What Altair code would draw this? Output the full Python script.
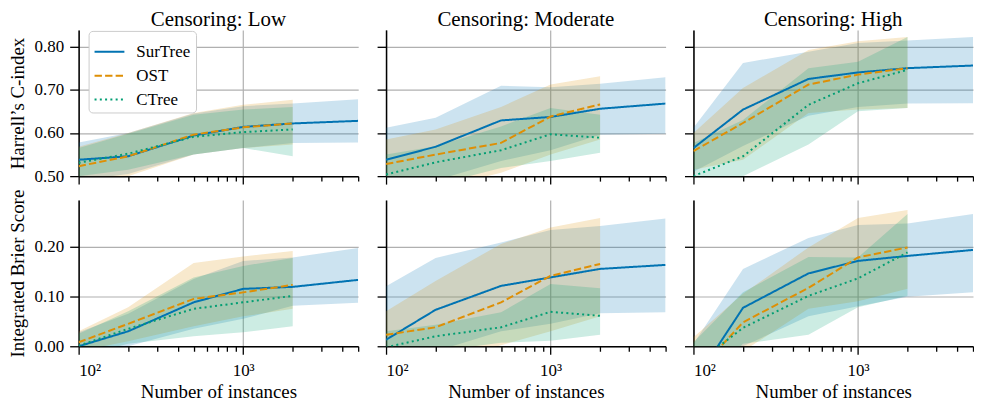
import altair as alt
import pandas as pd

FONT = "Liberation Serif"

MODELS = ["SurTree", "OST", "CTree"]
COLORS = ["#0173b2", "#de8f05", "#029e73"]
DASHES = [[1, 0], [7.4, 3.2], [2, 3.3]]
CENSORING = ["Low", "Moderate", "High"]
N_SUR = [100, 200, 500, 1000, 2000, 5000]
N_OTH = [100, 200, 500, 1000, 2000]
MAJOR_X = [100, 1000]
MINOR_X = [200, 300, 400, 500, 600, 700, 800, 900, 2000, 3000, 4000, 5000]

# ---- Harrell's C-index ----
cidx_low = {
    "SurTree": {"mean": [0.538, 0.546, 0.594, 0.614, 0.622, 0.628],
                "lo": [0.490, 0.505, 0.550, 0.565, 0.577, 0.578],
                "hi": [0.578, 0.600, 0.645, 0.662, 0.668, 0.678]},
    "OST": {"mean": [0.523, 0.546, 0.596, 0.613, 0.622],
            "lo": [0.485, 0.500, 0.550, 0.565, 0.573],
            "hi": [0.568, 0.600, 0.646, 0.665, 0.677]},
    "CTree": {"mean": [0.531, 0.552, 0.591, 0.602, 0.608],
              "lo": [0.500, 0.515, 0.550, 0.565, 0.546],
              "hi": [0.565, 0.598, 0.642, 0.654, 0.660]},
}
cidx_mod = {
    "SurTree": {"mean": [0.538, 0.568, 0.629, 0.637, 0.656, 0.668],
                "lo": [0.470, 0.490, 0.535, 0.560, 0.596, 0.598],
                "hi": [0.612, 0.635, 0.709, 0.706, 0.714, 0.729]},
    "OST": {"mean": [0.528, 0.550, 0.577, 0.638, 0.666],
            "lo": [0.450, 0.470, 0.508, 0.550, 0.585],
            "hi": [0.585, 0.608, 0.660, 0.712, 0.731]},
    "CTree": {"mean": [0.504, 0.532, 0.560, 0.597, 0.589],
              "lo": [0.460, 0.480, 0.519, 0.535, 0.554],
              "hi": [0.550, 0.569, 0.615, 0.658, 0.642]},
}
cidx_high = {
    "SurTree": {"mean": [0.565, 0.654, 0.725, 0.740, 0.750, 0.756],
                "lo": [0.510, 0.570, 0.640, 0.660, 0.668, 0.669],
                "hi": [0.612, 0.762, 0.788, 0.808, 0.814, 0.822]},
    "OST": {"mean": [0.558, 0.623, 0.712, 0.735, 0.750],
            "lo": [0.515, 0.538, 0.646, 0.654, 0.658],
            "hi": [0.600, 0.704, 0.792, 0.812, 0.822]},
    "CTree": {"mean": [0.500, 0.546, 0.665, 0.715, 0.746],
              "lo": [0.460, 0.500, 0.573, 0.650, 0.658],
              "hi": [0.577, 0.630, 0.750, 0.765, 0.822]},
}

# ---- Integrated Brier Score ----
ibs_low = {
    "SurTree": {"mean": [0.000, 0.030, 0.088, 0.115, 0.119, 0.133],
                "lo": [-0.020, 0.000, 0.035, 0.055, 0.081, 0.087],
                "hi": [0.028, 0.065, 0.135, 0.171, 0.178, 0.197]},
    "OST": {"mean": [0.008, 0.045, 0.095, 0.108, 0.123],
            "lo": [-0.010, 0.010, 0.040, 0.060, 0.075],
            "hi": [0.030, 0.078, 0.167, 0.180, 0.191]},
    "CTree": {"mean": [0.001, 0.035, 0.075, 0.088, 0.101],
              "lo": [-0.020, 0.005, 0.020, 0.028, 0.040],
              "hi": [0.025, 0.070, 0.138, 0.161, 0.177]},
}
ibs_mod = {
    "SurTree": {"mean": [0.013, 0.073, 0.121, 0.138, 0.155, 0.163],
                "lo": [-0.050, -0.010, 0.030, 0.045, 0.066, 0.068],
                "hi": [0.120, 0.177, 0.208, 0.233, 0.241, 0.256]},
    "OST": {"mean": [0.023, 0.038, 0.088, 0.141, 0.165],
            "lo": [-0.050, -0.030, 0.002, 0.030, 0.060],
            "hi": [0.070, 0.131, 0.205, 0.238, 0.257]},
    "CTree": {"mean": [-0.002, 0.020, 0.038, 0.069, 0.061],
              "lo": [-0.030, -0.010, 0.007, 0.011, 0.023],
              "hi": [0.030, 0.043, 0.068, 0.125, 0.116]},
}
ibs_high = {
    "SurTree": {"mean": [-0.074, 0.077, 0.146, 0.171, 0.181, 0.193],
                "lo": [-0.120, 0.000, 0.060, 0.080, 0.099, 0.108],
                "hi": [0.005, 0.155, 0.217, 0.243, 0.246, 0.265]},
    "OST": {"mean": [-0.060, 0.048, 0.117, 0.178, 0.198],
            "lo": [-0.120, -0.010, 0.075, 0.090, 0.115],
            "hi": [0.018, 0.105, 0.198, 0.257, 0.273]},
    "CTree": {"mean": [-0.040, 0.037, 0.101, 0.136, 0.188],
              "lo": [-0.100, 0.005, 0.023, 0.078, 0.101],
              "hi": [0.008, 0.108, 0.179, 0.178, 0.265]},
}

METRICS = ["cidx", "ibs"]
PANELS = {
    ("cidx", "Low"): cidx_low, ("cidx", "Moderate"): cidx_mod, ("cidx", "High"): cidx_high,
    ("ibs", "Low"): ibs_low, ("ibs", "Moderate"): ibs_mod, ("ibs", "High"): ibs_high,
}
YDOM = {"cidx": [0.5, 0.8385], "ibs": [0.0, 0.293]}
YTICKS = {"cidx": [0.5, 0.6, 0.7, 0.8], "ibs": [0.0, 0.1, 0.2]}
YTITLE = {"cidx": "Harrell\u2019s C-index", "ibs": "Integrated Brier Score"}

rows = []
for (metric, cens), panel in PANELS.items():
    for m in MODELS:
        xs = N_SUR if m == "SurTree" else N_OTH
        d = panel[m]
        for i, n in enumerate(xs):
            rows.append(dict(metric=metric, cens=cens, model=m, n=n,
                             mean=d["mean"][i], lo=d["lo"][i], hi=d["hi"][i]))
df = pd.DataFrame(rows)


def make_panel(metric, cens, r, c):
    sub = df[(df.metric == metric) & (df.cens == cens)]
    cscale = alt.Scale(domain=MODELS, range=COLORS)
    dscale = alt.Scale(domain=MODELS, range=DASHES)
    xscale = alt.Scale(type="log", domain=[100, 5000], nice=False)
    yscale = alt.Scale(domain=YDOM[metric], nice=False, zero=False)
    ykw = dict(values=YTICKS[metric], format=".2f", grid=True, tickSize=9, ticks=True,
               labels=(c == 0), labelPadding=6, titlePadding=7)
    ykw["title"] = YTITLE[metric] if c == 0 else None
    yaxis = alt.Axis(**ykw)
    xkw = dict(values=MAJOR_X, grid=True, tickSize=8, ticks=True, labels=(r == 1),
               labelExpr="datum.value == 100 ? '10\u00b2' : '10\u00b3'",
               orient="bottom", labelPadding=(8 if r == 1 else 4), titlePadding=4)
    xkw["title"] = "Number of instances" if r == 1 else None
    x_major = alt.X("n:Q", scale=xscale, axis=alt.Axis(**xkw))
    x_minor = alt.X("n:Q", scale=xscale,
                    axis=alt.Axis(values=MINOR_X, grid=False, tickSize=5, ticks=True,
                                  labels=False, domain=False, title=None, orient="bottom"))
    y_enc = alt.Y("mean:Q", scale=yscale, axis=yaxis)

    bands = []
    for m, col in zip(MODELS, COLORS):
        bands.append(alt.Chart(sub[sub.model == m]).mark_area(
            color=col, opacity=0.2, clip=True).encode(
            x=x_major, y=alt.Y("lo:Q", scale=yscale, axis=yaxis), y2="hi:Q"))

    if r == 0 and c == 0:
        leg = alt.Legend(title=None, orient="none", legendX=10, legendY=1,
                         fillColor="white", strokeColor="#cccccc", cornerRadius=4,
                         padding=5, symbolType="stroke", symbolSize=900, symbolStrokeWidth=2,
                         labelFont=FONT, labelFontSize=17, labelOffset=11, rowPadding=0,
                         labelColor="black")
        color = alt.Color("model:N", scale=cscale, legend=leg)
        dash = alt.StrokeDash("model:N", scale=dscale, legend=leg)
    else:
        color = alt.Color("model:N", scale=cscale, legend=None)
        dash = alt.StrokeDash("model:N", scale=dscale, legend=None)
    lines = alt.Chart(sub).mark_line(strokeWidth=2, clip=True).encode(
        x=x_major, y=y_enc, color=color, strokeDash=dash)

    inner = alt.layer(*bands, lines)
    minor = alt.Chart(sub).mark_point(opacity=0, size=1, clip=True).encode(x=x_minor, y=y_enc)
    ch = alt.layer(inner, minor).resolve_axis(x="independent").properties(width=281, height=147)
    if r == 0:
        ch = ch.properties(title=alt.TitleParams("Censoring:  " + cens, font=FONT, fontSize=21,
                                                 fontWeight="normal", anchor="middle",
                                                 frame="group", offset=0))
    return ch


RES = dict(color="independent", strokeDash="independent")
grid_rows = []
for r, metric in enumerate(METRICS):
    grid_rows.append(
        alt.hconcat(*[make_panel(metric, cens, r, c) for c, cens in enumerate(CENSORING)],
                    spacing=17).resolve_scale(**RES).resolve_legend(**RES)
    )

chart = alt.vconcat(*grid_rows, spacing=4, padding=0).resolve_scale(**RES).resolve_legend(
    **RES
).configure(background="white").configure_view(stroke=None).configure_axis(
    labelFont=FONT, titleFont=FONT, labelFontSize=17, titleFontSize=19,
    titleFontWeight="normal", labelColor="black", titleColor="black",
    domainColor="black", domainWidth=1.5, tickColor="black", tickWidth=1.3,
    gridColor="#b0b0b0", gridWidth=1.2,
)

chart.save("out.html", embed_options={"renderer": "svg", "actions": False})
